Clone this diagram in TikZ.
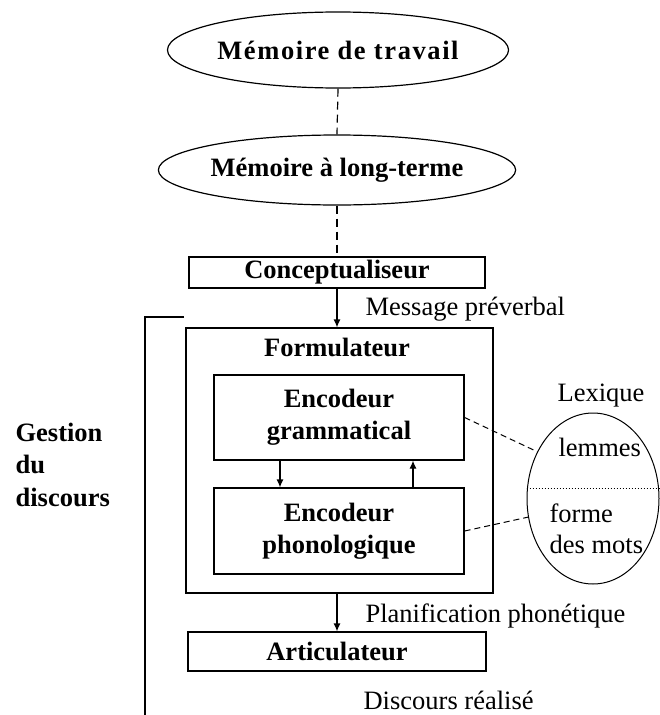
\documentclass[tikz,border=0pt]{standalone}
\usepackage{fontspec}
\setmainfont{Liberation Serif}
\usepackage{tikz}
\usetikzlibrary{arrows.meta,shapes.geometric}

\begin{document}
\begin{tikzpicture}[x=1pt,y=-1pt,line width=1.2pt,
  every node/.style={font=\fontsize{26.5}{32}\selectfont,inner sep=0pt},
  boite/.style={draw,rectangle,font=\fontsize{26.5}{32}\selectfont\bfseries,align=center},
  bulle/.style={draw,ellipse,font=\fontsize{26.5}{32}\selectfont\bfseries},
  fleche/.style={-{Latex[length=8pt,width=7pt]}},
  tirets/.style={dash pattern=on 8pt off 5pt},
  tiretsfins/.style={line width=1pt,dash pattern=on 6pt off 4pt}]
\useasboundingbox (0,0) rectangle (659,715);

\node[bulle,minimum width=310pt,minimum height=76pt] (memtrav) at (338,50) {\addfontfeature{LetterSpace=6}Mémoire de travail};
\node[bulle,minimum width=308pt,minimum height=70pt] (memlong) at (337,170) {Mémoire à long-terme};
\node[boite,minimum width=296pt,minimum height=31pt] (concept) at (337,272.5) {Conceptualiseur};

\node[boite,minimum width=307pt,minimum height=265pt] (form) at (339.5,460.5) {};
\node[anchor=base,font=\fontsize{26.5}{32}\selectfont\bfseries] (formtitre) at (337,356) {Formulateur};
\node[boite,minimum width=250pt,minimum height=85pt] (gram) at (339,417.5) {Encodeur\\grammatical};
\node[boite,minimum width=250pt,minimum height=86pt] (phono) at (339,531) {Encodeur\\phonologique};
\node[boite,minimum width=298pt,minimum height=39pt] (artic) at (337,651.5) {Articulateur};

\node[draw,ellipse,line width=1pt,minimum width=132pt,minimum height=171pt] (lex) at (593,498.5) {};
\node[anchor=base west] (lexique) at (557,401) {Lexique};
\node[anchor=base west] (lemmes) at (558,456) {lemmes};
\node[anchor=west,align=left,font=\fontsize{26.5}{31}\selectfont] (formes) at (549,528.5) {forme\\des mots};

\node[anchor=base west] (msg) at (365,315) {Message préverbal};
\node[anchor=base west] (planif) at (365,622) {Planification phonétique};
\node[anchor=base west] (discours) at (363,709) {Discours réalisé};
\node[anchor=west,align=left,font=\fontsize{26.5}{32.5}\selectfont\bfseries] (gestion) at (15,464.5) {Gestion\\du\\discours};

\draw[tirets] (memtrav.south) -- (memlong.north);
\draw[tirets] (memlong.south) -- (concept.north);
\draw[fleche] (concept.south) -- (concept.south |- form.north);
\draw[fleche] ([xshift=-59pt]gram.south) -- ([xshift=-59pt]phono.north);
\draw[fleche] ([xshift=74pt]phono.north) -- ([xshift=74pt]gram.south);
\draw[fleche] (artic.north |- form.south) -- (artic.north);
\draw[tiretsfins] (gram.east) -- (lex.140);
\draw[tiretsfins] (phono.east) -- (lex.196);
\draw[dotted,line width=1pt] ([yshift=10.5pt]lex.west) -- ([yshift=10.5pt]lex.east);

\coordinate (brhaut) at (184,317);
\coordinate (brbas) at (145,716);
\draw (brhaut) -| (brbas);
\end{tikzpicture}
\end{document}
